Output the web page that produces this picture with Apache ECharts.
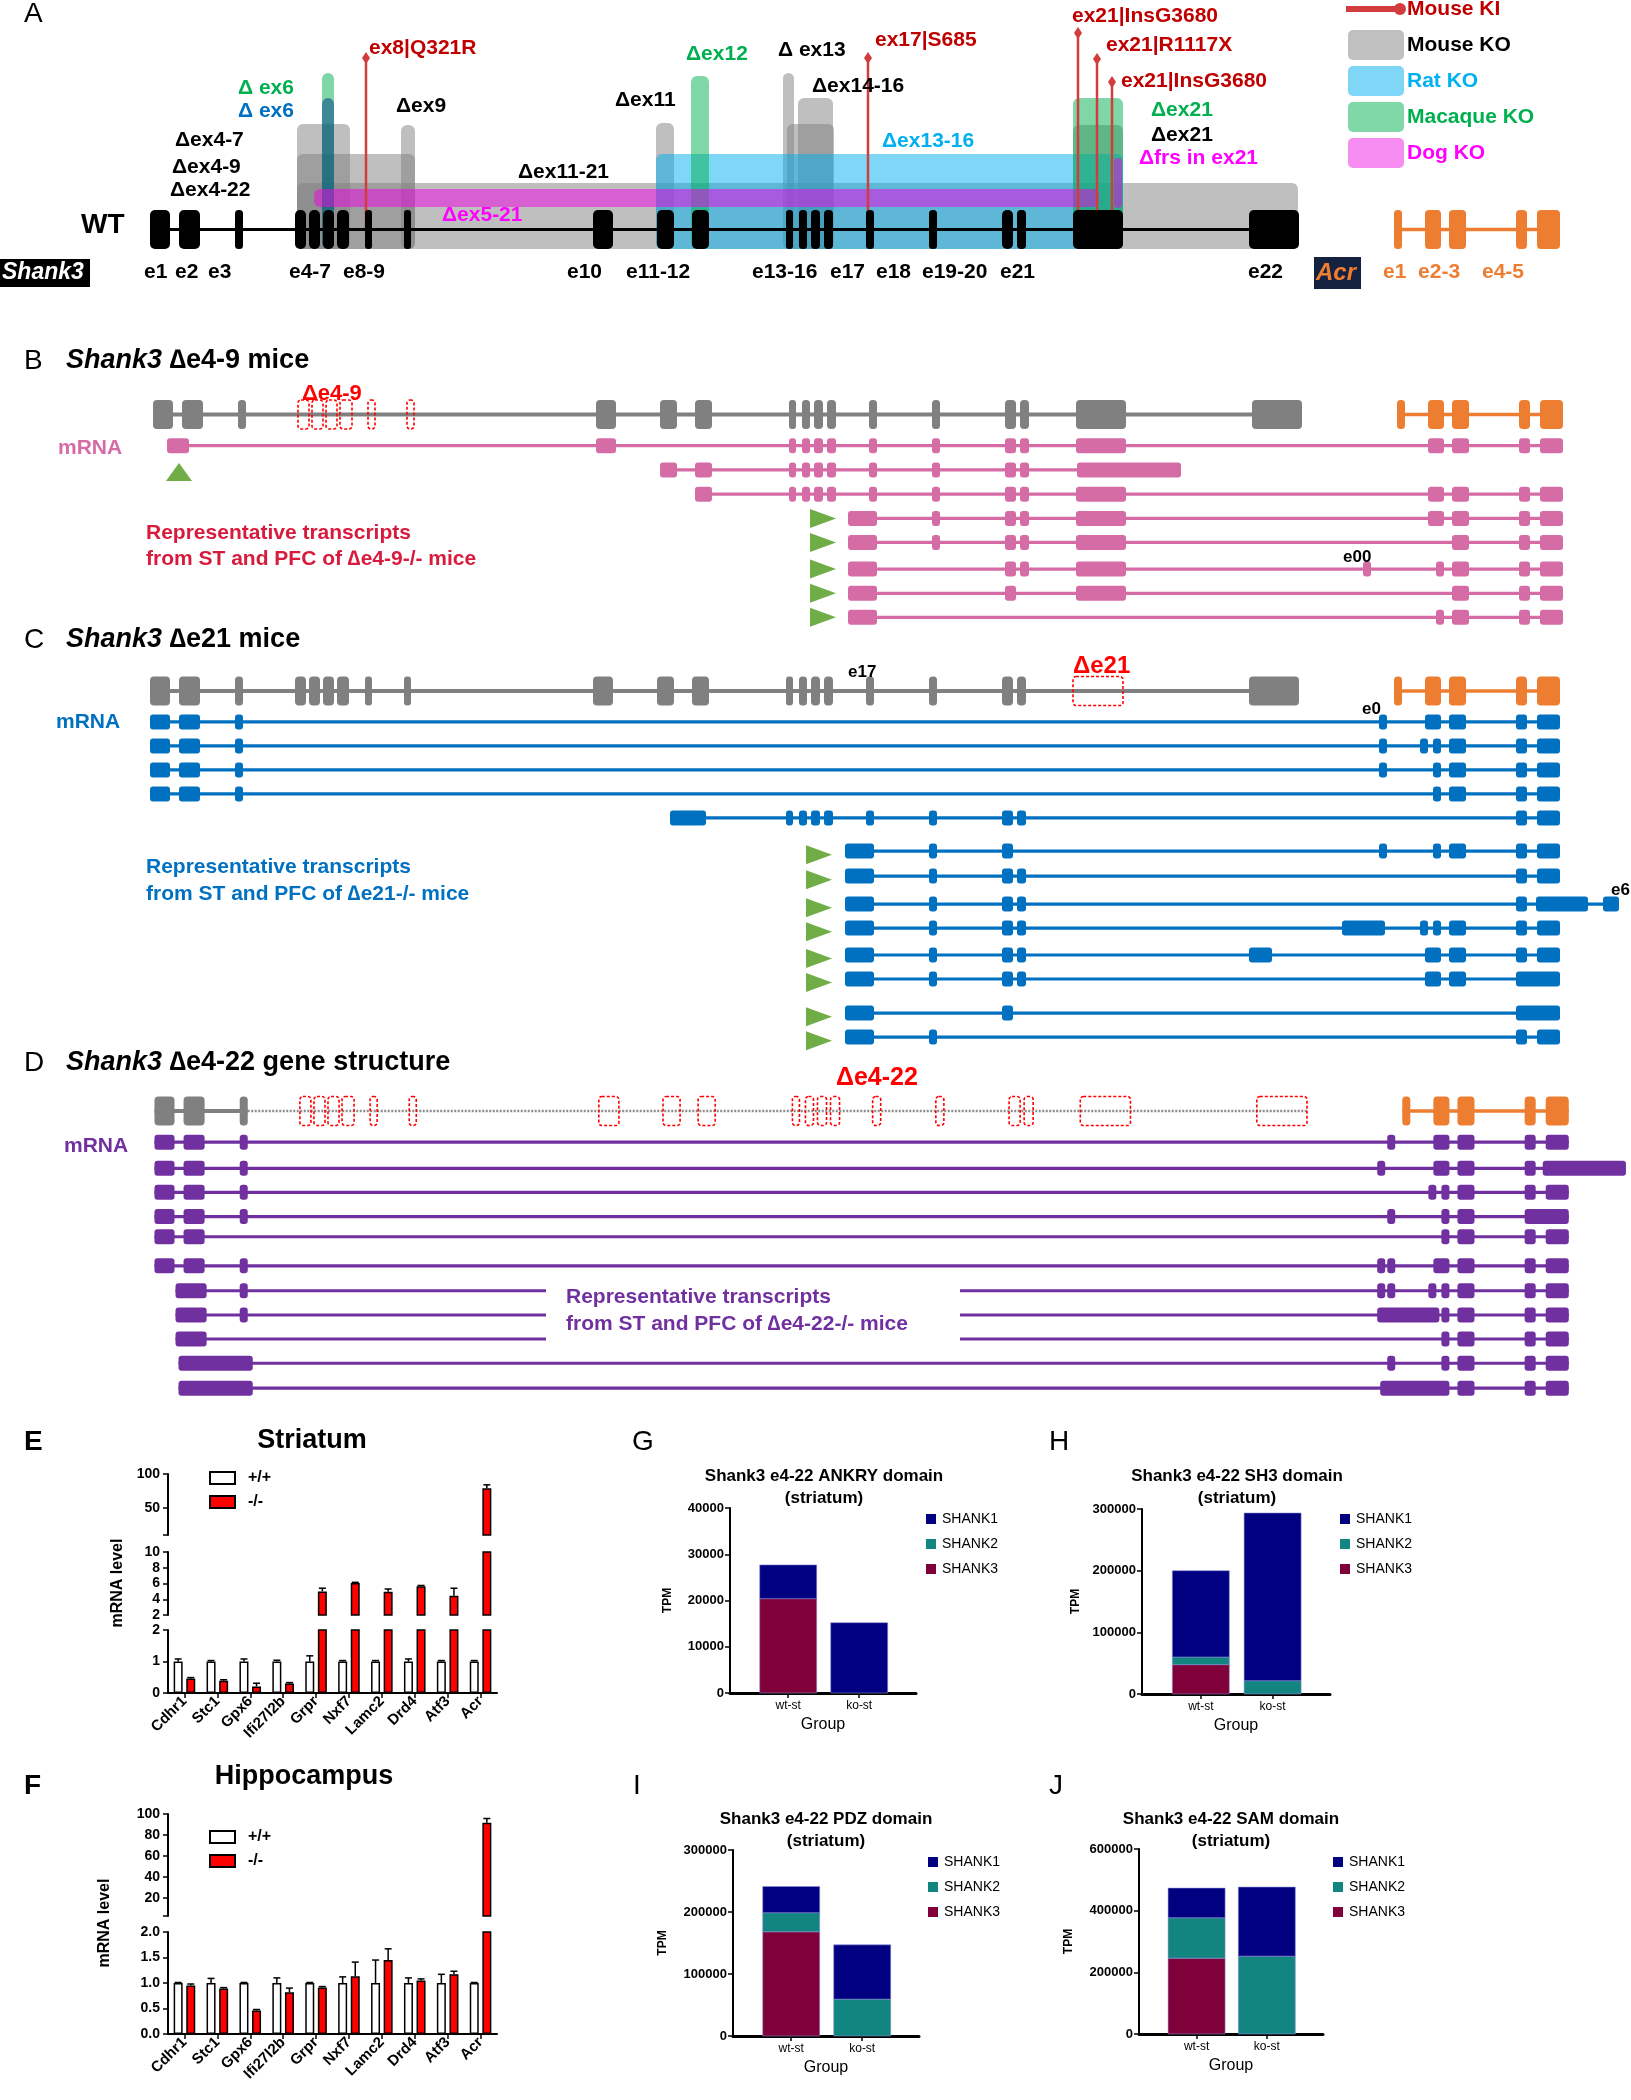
<!DOCTYPE html>
<html>
<head>
<meta charset="utf-8">
<title>Shank3 figure</title>
<script src="https://cdn.jsdelivr.net/npm/echarts@6/dist/echarts.min.js"></script>
<style>
html,body{margin:0;padding:0;background:#ffffff;}
#chart{width:1631px;height:2100px;}
</style>
</head>
<body>
<div id="chart"></div>
<script>
// ================= DATA =================
// Shank3 exons (genomic units as drawn in panel A)
const shank3Names = ['e1','e2','e3','e4','e5','e6','e7','e8','e9','e10','e11','e12','e13','e14','e15','e16','e17','e18','e19','e20','e21','e22'];
const shank3Start = [150,179,235,295,309,323,337,365,404,593,657,692,786,799,811,824,866,929,1002,1017,1073,1249];
const shank3End   = [170,200,243,306,320,334,349,372,411,613,674,709,793,807,820,833,874,937,1013,1026,1123,1299];
// Acr exons
const acrNames = ['a1','a2','a3','a4','a5'];
const acrStart = [1394,1425,1449,1516,1537];
const acrEnd   = [1402,1441,1466,1527,1560];
// novel / alternative exons seen in transcripts
const novelNames = ['n1','e17x','e21L','e00','e0','e0b','a2a','a2b','a45','a5L','xe6','x22a','x22b','e1112','a5X','e2x','e23','e0a2','e0a2b'];
const novelStart = [164,845,1074,1360,1379,1369,1420,1433,1516,1536,1603,1342,1249,670,1534,171,174,1369,1372];
const novelEnd   = [186,874,1178,1368,1387,1377,1428,1441,1560,1588,1619,1385,1272,706,1617,202,248,1431,1441];

// Panel A knockout regions: [start, end, top level (above gene line)]
const mouseKO   = [[297,350,105.5],[297,415,75.5],[297,1298,46.5],[401,415,104.5],[656,674,106.5],[783,794,156.5],[798,833,131.5],[787,834,105.5],[1073,1123,104.5]];
const ratKO     = [[656,1123,75.5]];
const macaqueKO = [[322,334,156.5],[691,709,153.5],[1073,1123,131.5]];
const blueKO    = [[322,334,131.5]];
const dogKO     = [[314,1099,40.5,22.5],[1114,1122,71.5,21.5]];
// Mouse knock-in mutations: [position, stem top level]
const mouseKI = [[366,171.5],[868,171.5],[1078,196.5],[1097,170.5],[1112,147.5]];

// deleted exons per model
const deletedB = ['e4','e5','e6','e7','e8','e9'];
const deletedC = ['e21'];
const deletedD = shank3Names.slice(3);

// transcripts (exon ids) and their track rows
const txB = [
 ['n1','e10','e13','e14','e15','e16','e17','e18','e19','e20','e21','a2','a3','a4','a5'],
 ['e11','e12','e13','e14','e15','e16','e17','e18','e19','e20','e21L'],
 ['e12','e13','e14','e15','e16','e17','e18','e19','e20','e21','a2','a3','a4','a5'],
 ['e17x','e18','e19','e20','e21','a2','a3','a4','a5'],
 ['e17x','e18','e19','e20','e21','a3','a4','a5'],
 ['e17x','e19','e20','e21','e00','a2b','a3','a4','a5'],
 ['e17x','e19','e21','a3','a4','a5'],
 ['e17x','a2b','a3','a4','a5']];
const rowsB = [1.3,2.31,3.32,4.33,5.33,6.44,7.45,8.45];
const txC = [
 ['e1','e2','e3','e0','a2','a3','a4','a5'],
 ['e1','e2','e3','e0','a2a','a2b','a3','a4','a5'],
 ['e1','e2','e3','e0','a2b','a3','a4','a5'],
 ['e1','e2','e3','a2b','a3','a4','a5'],
 ['e1112','e13','e14','e15','e16','e17','e18','e19','e20','a4','a5'],
 ['e17x','e18','e19','e0','a2b','a3','a4','a5'],
 ['e17x','e18','e19','e20','a4','a5'],
 ['e17x','e18','e19','e20','a4','a5L','xe6'],
 ['e17x','e18','e19','e20','x22a','a2a','a2b','a3','a4','a5'],
 ['e17x','e18','e19','e20','x22b','a2','a3','a4','a5'],
 ['e17x','e18','e19','e20','a2','a3','a45'],
 ['e17x','e19','a45'],
 ['e17x','e18','a4','a5']];
const rowsC = [1.29,2.29,3.29,4.29,5.29,6.67,7.71,8.88,9.88,11.0,12.0,13.42,14.42];
const txD = [
 ['e1','e2','e3','e0','a2','a3','a4','a5'],
 ['e1','e2','e3','e0b','a2','a3','a4','a5X'],
 ['e1','e2','e3','a2a','a2b','a3','a4','a5'],
 ['e1','e2','e3','e0','a2b','a3','a45'],
 ['e1','e2','a2b','a3','a4','a5'],
 ['e1','e2','e3','e0b','e0','a2','a3','a4','a5'],
 ['e2x','e3','e0b','e0','a2a','a2b','a3','a4','a5'],
 ['e2x','e3','e0a2','a2b','a3','a4','a5'],
 ['e2x','a2b','a3','a4','a5'],
 ['e23','e0','a2b','a3','a4','a5'],
 ['e23','e0a2b','a3','a4','a5']];
const rowsD = [1.3,2.39,3.39,4.4,5.24,6.45,7.49,8.5,9.5,10.51,11.55];
// start markers: [position, row, direction 0=up 1=right]
const triB = [[176,2.4,0],[820,4.33,1],[820,5.33,1],[820,6.44,1],[820,7.45,1],[820,8.45,1]];
const triC = [[819,6.82,1],[819,7.86,1],[819,9.03,1],[819,10.03,1],[819,11.15,1],[819,12.15,1],[819,13.57,1],[819,14.57,1]];

// qPCR (panels E, F)
const genes = ['Cdhr1','Stc1','Gpx6','Ifi27l2b','Grpr','Nxf7','Lamc2','Drd4','Atf3','Acr'];
const stWT    = [1,1,1,1,1,1,1,1,1,1];
const stWTerr = [0.08,0.03,0.08,0.04,0.18,0.03,0.03,0.08,0.03,0.03];
const stKO    = [0.46,0.39,0.21,0.3,5.0,6.05,4.95,5.65,4.45,79];
const stKOerr = [0.03,0.03,0.1,0.03,0.4,0.1,0.35,0.1,0.95,5];
const hpWT    = [1,1,1,1,1,1,1,1,1,1];
const hpWTerr = [0.01,0.09,0.01,0.1,0.01,0.12,0.45,0.1,0.17,0.01];
const hpKO    = [0.95,0.89,0.46,0.82,0.91,1.13,1.45,1.05,1.17,91.7];
const hpKOerr = [0.03,0.02,0.02,0.08,0.02,0.28,0.22,0.03,0.06,4];

// TPM (panels G-J), groups wt-st / ko-st
const groups = ['wt-st','ko-st'];
const ankS1 = [7300,15200],   ankS2 = [0,0],          ankS3 = [20400,0];
const sh3S1 = [140000,271900], sh3S2 = [12400,21600], sh3S3 = [47600,0];
const pdzS1 = [42200,87500],  pdzS2 = [30800,59500],  pdzS3 = [168100,0];
const samS1 = [96200,224000], samS2 = [131100,252500], samS3 = [245900,0];

// ================= RENDER =================
const FF = '"Liberation Sans", Arial, Helvetica, sans-serif';
const grids = [], xAxes = [], yAxes = [], series = [], legends = [], graphics = [];
function addGrid(g, x, y){ g.containLabel=false; g.outerBoundsMode='none'; grids.push(g); const i=grids.length-1; x.gridIndex=i; y.gridIndex=i; xAxes.push(x); yAxes.push(y); return i; }
function pos(id){ let i=shank3Names.indexOf(id); if(i>=0) return [shank3Start[i],shank3End[i]];
  i=acrNames.indexOf(id); if(i>=0) return [acrStart[i],acrEnd[i]]; i=novelNames.indexOf(id); return [novelStart[i],novelEnd[i]]; }
function exData(ids,row){ return ids.map(id=>{const p=pos(id); return [p[0],p[1],row];}); }

function segSeries(g, data, color, lw, dash, z){
  return {type:'custom', xAxisIndex:g, yAxisIndex:g, silent:true, z:z||2, data:data, encode:{x:[0,1],y:2},
    renderItem:function(p,api){ const a=api.coord([api.value(0),api.value(2)]), b=api.coord([api.value(1),api.value(2)]);
      return {type:'line', shape:{x1:a[0],y1:a[1],x2:b[0],y2:b[1]}, style:{stroke:color,lineWidth:lw,lineDash:dash||null}}; }};
}
function exonSeries(g, data, color, h, o){ o=o||{};
  return {type:'custom', xAxisIndex:g, yAxisIndex:g, silent:true, z:o.z||4, data:data, encode:{x:[0,1],y:2},
    renderItem:function(p,api){ const a=api.coord([api.value(0),api.value(2)]), b=api.coord([api.value(1),api.value(2)]);
      const w=Math.max(b[0]-a[0],2); const r=Math.min(o.r==null?4:o.r, w/2-0.5, h/2);
      const style=o.dash?{fill:'rgba(0,0,0,0)',stroke:color,lineWidth:1.6,lineDash:o.dash}:{fill:color};
      return {type:'rect', shape:{x:a[0],y:a[1]-h/2,width:w,height:h,r:Math.max(r,0)}, style:style}; }};
}
function boxSeries(g, data, color, z){
  return {type:'custom', xAxisIndex:g, yAxisIndex:g, silent:true, z:z||1, data:data, encode:{x:[0,1],y:[2,3]},
    renderItem:function(p,api){ const a=api.coord([api.value(0),api.value(2)]), b=api.coord([api.value(1),api.value(3)]);
      return {type:'rect', shape:{x:a[0],y:a[1],width:b[0]-a[0],height:b[1]-a[1],r:6}, style:{fill:color}}; }};
}
function triSeries(g, data){
  return {type:'custom', xAxisIndex:g, yAxisIndex:g, silent:true, z:5, data:data, encode:{x:0,y:1},
    renderItem:function(p,api){ const c=api.coord([api.value(0),api.value(1)]); const d=api.value(2);
      const pts = d===0 ? [[c[0]-13,c[1]+9],[c[0]+13,c[1]+9],[c[0],c[1]-9]] : [[c[0]-13,c[1]-9.5],[c[0]-13,c[1]+9.5],[c[0]+13,c[1]]];
      return {type:'polygon', shape:{points:pts}, style:{fill:'#70AD47'}}; }};
}
function txSeries(g, tx, rows, color){
  const lines = tx.map((t,k)=>{const ps=t.map(pos); return [Math.min.apply(null,ps.map(p=>p[0])), Math.max.apply(null,ps.map(p=>p[1])), rows[k]];});
  const ex = [].concat.apply([], tx.map((t,k)=>exData(t,rows[k])));
  series.push(segSeries(g, lines, color, 3.2, null, 3));
  series.push(exonSeries(g, ex, color, 15, {z:4, r:3}));
}
const hideAx = (min,max,inv)=>({type:'value', min:min, max:max, inverse:!!inv, show:false, splitLine:{show:false}});

// ---------- Panel A ----------
const gA = addGrid({left:0, top:0, width:1631, height:300}, hideAx(0,1631), hideAx(-70.5,229.5));
series.push(boxSeries(gA, mouseKO.map(b=>[b[0],b[1],b[2],-19.5]), 'rgba(128,128,128,0.5)', 1));
series.push(boxSeries(gA, ratKO.map(b=>[b[0],b[1],b[2],-19.5]), 'rgba(0,176,240,0.5)', 1));
series.push(boxSeries(gA, macaqueKO.map(b=>[b[0],b[1],b[2],-19.5]), 'rgba(0,176,80,0.5)', 1));
series.push(boxSeries(gA, blueKO.map(b=>[b[0],b[1],b[2],-19.5]), 'rgba(10,70,140,0.55)', 1));
series.push(boxSeries(gA, dogKO, 'rgba(240,0,230,0.5)', 1));
series.push({type:'custom', xAxisIndex:gA, yAxisIndex:gA, silent:true, z:2, data:mouseKI, encode:{x:0,y:1},
  renderItem:function(p,api){ const a=api.coord([api.value(0),0]), b=api.coord([api.value(0),api.value(1)]);
    return {type:'group', children:[
      {type:'line', shape:{x1:a[0],y1:a[1],x2:b[0],y2:b[1]}, style:{stroke:'#D23C3C',lineWidth:2.5}},
      {type:'polygon', shape:{points:[[b[0],b[1]-6],[b[0]+4,b[1]],[b[0],b[1]+6],[b[0]-4,b[1]]]}, style:{fill:'#D23C3C'}}]}; }});
series.push(segSeries(gA, [[shank3Start[0], shank3End[21], 0]], '#000', 3, null, 3));
series.push(exonSeries(gA, exData(shank3Names,0), '#000', 39, {z:4, r:5}));
series.push(segSeries(gA, [[acrStart[0], acrEnd[4], 0]], '#ED7D31', 3.5, null, 3));
series.push(exonSeries(gA, exData(acrNames,0), '#ED7D31', 39, {z:4, r:4}));

// ---------- Panels B, C, D ----------
function genePanel(g, deleted, dottedAfterE3){
  const present = shank3Names.filter(n=>deleted.indexOf(n)<0);
  if(dottedAfterE3){
    series.push(segSeries(g, [[shank3Start[0], shank3End[2], 0]], '#808080', 4, null, 3));
    series.push(segSeries(g, [[shank3End[2], shank3End[21], 0]], '#8c8c8c', 2.5, [2,1.5], 3));
  } else series.push(segSeries(g, [[shank3Start[0], shank3End[21], 0]], '#808080', 4, null, 3));
  series.push(exonSeries(g, exData(present,0), '#808080', 29, {z:4, r:4}));
  series.push(exonSeries(g, exData(deleted,0), '#FF0000', 29, {z:5, r:3, dash:[3,2]}));
  series.push(segSeries(g, [[acrStart[0], acrEnd[4], 0]], '#ED7D31', 3.5, null, 3));
  series.push(exonSeries(g, exData(acrNames,0), '#ED7D31', 29, {z:4, r:4}));
}
const gB = addGrid({left:3, top:390.5, width:1631, height:240}, hideAx(0,1631), hideAx(-1,9,true));
genePanel(gB, deletedB, false); txSeries(gB, txB, rowsB, '#D56CA6'); series.push(triSeries(gB, triB));
const gC = addGrid({left:0, top:667, width:1631, height:384}, hideAx(0,1631), hideAx(-1,15,true));
genePanel(gC, deletedC, false); txSeries(gC, txC, rowsC, '#0070C0'); series.push(triSeries(gC, triC));
const gD = addGrid({left:4, top:1087, width:1636, height:312}, hideAx(0,1631), hideAx(-1,12,true));
genePanel(gD, deletedD, true); txSeries(gD, txD, rowsD, '#7030A0');

// ---------- Panels E, F (broken axes) ----------
function brokenPanel(segs, wt, wtErr, ko, koErr){
  segs.forEach(s=>{
    const yAx = {type:'value', min:s.min, max:s.max, splitLine:{show:false},
      axisLine:{show:true, lineStyle:{color:'#000', width:2}},
      axisTick:{show:true, length:5, lineStyle:{color:'#000', width:1.5}},
      axisLabel:{color:'#000', fontSize:14, fontWeight:'bold', fontFamily:FF, margin:8, formatter:v=>String(v)}};
    if(s.interval!=null) yAx.interval=s.interval; else { yAx.axisTick.customValues=s.ticks; yAx.axisLabel.customValues=s.labels; }
    if(s.fmt1) yAx.axisLabel.formatter = v=>Number(v).toFixed(1);
    const xAx = {type:'category', data:genes, show:!!s.bottom, boundaryGap:true,
      axisLine:{show:true, lineStyle:{color:'#000', width:2}},
      axisTick:{show:true, alignWithLabel:true, length:5, lineStyle:{color:'#000', width:1.5}},
      axisLabel:{rotate:45, color:'#000', fontSize:15, fontWeight:'bold', fontFamily:FF, margin:6, interval:0}};
    const g = addGrid({left:168, top:s.top, width:329, height:s.h}, xAx, yAx);
    series.push({type:'bar', name:'+/+', xAxisIndex:g, yAxisIndex:g, data:wt, barWidth:9, barGap:'40%', clip:true, z:2,
      itemStyle:{color:'#fff', borderColor:'#000', borderWidth:1.5}});
    series.push({type:'bar', name:'-/-', xAxisIndex:g, yAxisIndex:g, data:ko, barWidth:9, barGap:'40%', clip:true, z:2,
      itemStyle:{color:'#FF0000', borderColor:'#000', borderWidth:1.5}});
    [[wt,wtErr,-6.3],[ko,koErr,6.3]].forEach(([vals,errs,off])=>{
      series.push({type:'custom', xAxisIndex:g, yAxisIndex:g, silent:true, z:3, data:vals.map((v,i)=>[i,v,errs[i]]), encode:{x:0,y:1},
        renderItem:function(p,api){ const v=api.value(1), e=api.value(2); if(v<s.min||v>s.max) return;
          const a=api.coord([api.value(0),v]), b=api.coord([api.value(0),Math.min(v+e,s.max)]); const x=a[0]+off;
          return {type:'group', children:[
            {type:'line', shape:{x1:x,y1:a[1],x2:x,y2:b[1]}, style:{stroke:'#000',lineWidth:1.5}},
            {type:'line', shape:{x1:x-3.5,y1:b[1],x2:x+3.5,y2:b[1]}, style:{stroke:'#000',lineWidth:1.5}}]}; }});
    });
  });
}
brokenPanel([{top:1474,h:61,min:10,max:100,ticks:[10,50,100],labels:[50,100]},
             {top:1552,h:63,min:2,max:10,interval:2},
             {top:1630,h:63,min:0,max:2,interval:1,bottom:true}], stWT, stWTerr, stKO, stKOerr);
brokenPanel([{top:1814,h:102,min:3,max:100,ticks:[3,20,40,60,80,100],labels:[20,40,60,80,100]},
             {top:1932,h:102,min:0,max:2,interval:0.5,bottom:true,fmt1:true}], hpWT, hpWTerr, hpKO, hpKOerr);
legends.push({left:209, top:1470, orient:'vertical', padding:0, itemWidth:25, itemHeight:12, itemGap:8, icon:'rect', data:['+/+','-/-'],
  textStyle:{color:'#000', fontSize:16, fontWeight:'bold', fontFamily:FF, padding:[0,0,0,8]}});
legends.push({left:209, top:1829, orient:'vertical', padding:0, itemWidth:25, itemHeight:12, itemGap:8, icon:'rect', data:['+/+','-/-'],
  textStyle:{color:'#000', fontSize:16, fontWeight:'bold', fontFamily:FF, padding:[0,0,0,8]}});

// ---------- Panels G-J (stacked TPM) ----------
const C1='#000080', C2='#138581', C3='#80003A';
function stackSeries(g, name, color, base, vals){
  return {type:'custom', name:name, xAxisIndex:g, yAxisIndex:g, z:2, itemStyle:{color:color},
    data:vals.map((v,i)=>[i+1, base[i], base[i]+v]), encode:{x:0, y:[1,2]},
    renderItem:function(p,api){ const a=api.coord([api.value(0),api.value(1)]), b=api.coord([api.value(0),api.value(2)]);
      if(a[1]-b[1] < 0.5) return;
      return {type:'rect', shape:{x:a[0]-28.5, y:b[1], width:57, height:a[1]-b[1]}, style:{fill:color, stroke:'rgba(140,140,215,0.7)', lineWidth:0.8}}; }};
}
function stackPanel(box, ymax, yint, s1, s2, s3, legPos, tpmGap){
  const g = addGrid({left:box[0], top:box[1], width:box[2], height:box[3]},
    {type:'value', min:0.18, max:2.8, splitLine:{show:false},
      axisLine:{show:true, onZero:false, lineStyle:{color:'#000', width:3}},
      axisTick:{show:true, customValues:[1,2], length:5, lineStyle:{color:'#000', width:1.5}},
      axisLabel:{customValues:[1,2], formatter:v=>groups[Math.round(v)-1], color:'#000', fontSize:12, fontFamily:FF, margin:7},
      name:'Group', nameLocation:'middle', nameGap:24, nameTextStyle:{color:'#000', fontSize:16, fontFamily:FF}},
    {type:'value', min:0, max:ymax, interval:yint, splitLine:{show:false},
      axisLine:{show:true, onZero:false, lineStyle:{color:'#000', width:2}},
      axisTick:{show:true, length:5, lineStyle:{color:'#000', width:1.5}},
      axisLabel:{color:'#000', fontSize:13, fontWeight:'bold', fontFamily:FF, margin:6, formatter:v=>String(v)},
      name:'TPM', nameLocation:'middle', nameGap:tpmGap, nameRotate:90, nameTextStyle:{color:'#000', fontSize:12, fontWeight:'bold', fontFamily:FF}});
  const zero = s1.map(()=>0);
  const b2 = s3.slice(), b1 = s3.map((v,i)=>v+s2[i]);
  series.push(stackSeries(g,'SHANK3',C3,zero,s3));
  series.push(stackSeries(g,'SHANK2',C2,b2,s2));
  series.push(stackSeries(g,'SHANK1',C1,b1,s1));
  legends.push({left:legPos[0], top:legPos[1], orient:'vertical', padding:0, itemWidth:10, itemHeight:10, itemGap:11, icon:'rect',
    data:['SHANK1','SHANK2','SHANK3'], textStyle:{color:'#000', fontSize:14, fontFamily:FF, padding:[0,0,0,1]}});
}
stackPanel([730,1508,186,185], 40000, 10000, ankS1, ankS2, ankS3, [926,1512], 56);
stackPanel([1142,1509,188,185], 300000, 100000, sh3S1, sh3S2, sh3S3, [1340,1512], 60);
stackPanel([733,1850,186,186], 300000, 100000, pdzS1, pdzS2, pdzS3, [928,1855], 64);
stackPanel([1139,1849,184,185], 600000, 200000, samS1, samS2, samS3, [1333,1855], 64);

// ================= TEXT / DECORATION =================
function font(size, weight, italic){ return (italic?'italic ':'') + (weight||'bold') + ' ' + size + 'px ' + FF; }
function T(text, x, y, size, color, o){ o=o||{}; const al=o.align||'left';
  return {type:'text', x:x, y:y, z:100, silent:true, rotation:o.rot||0,
    style:{text:text, fill:color||'#000', font:font(size,o.weight,o.italic), align:al, textAlign:al, verticalAlign:'middle', textVerticalAlign:'middle'}}; }
function titleRich(x, y, rest){
  return {type:'text', x:x, y:y, z:100, silent:true, style:{text:'{i|Shank3} {b|'+rest+'}', font:font(27), verticalAlign:'middle', textVerticalAlign:'middle',
    rich:{i:{fontStyle:'italic', fontWeight:'bold', fontSize:27, fontFamily:FF, fill:'#000'}, b:{fontWeight:'bold', fontSize:27, fontFamily:FF, fill:'#000'}}}}; }
const G='#00B050', CY='#00B0F0', MG='#FF00FF', DR='#C00000';
// Panel A
graphics.push(T('A',24,14,28,'#000',{weight:'normal'}));
graphics.push(T('WT',81,225,28));
graphics.push({type:'rect', shape:{x:0,y:259,width:90,height:28}, style:{fill:'#000'}, z:99});
graphics.push(T('Shank3',2,273,23,'#fff',{italic:true}));
graphics.push({type:'rect', shape:{x:1314,y:257,width:47,height:32}, style:{fill:'#14213f'}, z:99});
graphics.push(T('Acr',1316,273,24,'#ED7D31',{italic:true}));
[['e1',144],['e2',175],['e3',208],['e4-7',289],['e8-9',343],['e10',567],['e11-12',626],['e13-16',752],['e17',830],['e18',876],['e19-20',922],['e21',1000],['e22',1248]]
  .forEach(l=>graphics.push(T(l[0],l[1],272,21)));
graphics.push(T('e1  e2-3',1383,272,21,'#ED7D31'));
graphics.push(T('e4-5',1482,272,21,'#ED7D31'));
[['Δ ex6',238,88,G],['Δ ex6',238,111,'#0070C0'],['Δex4-7',175,140,'#000'],['Δex4-9',172,167,'#000'],['Δex4-22',170,190,'#000'],
 ['Δex9',396,106,'#000'],['Δex11',615,100,'#000'],['Δex12',686,54,G],['Δ ex13',778,50,'#000'],['Δex14-16',812,86,'#000'],
 ['Δex13-16',882,141,CY],['Δex11-21',518,172,'#000'],['Δex5-21',442,215,MG],['Δex21',1151,110,G],['Δex21',1151,135,'#000'],['Δfrs in ex21',1139,158,MG],
 ['ex8|Q321R',369,48,DR],['ex17|S685',875,40,DR],['ex21|InsG3680',1072,16,DR],['ex21|R1117X',1106,45,DR],['ex21|InsG3680',1121,81,DR]]
  .forEach(l=>graphics.push(T(l[0],l[1],l[2],21,l[3])));
// Panel A legend
graphics.push({type:'line', shape:{x1:1346,y1:9,x2:1399,y2:9}, style:{stroke:'#D23C3C', lineWidth:6}, z:99});
graphics.push({type:'circle', shape:{cx:1400,cy:9,r:6}, style:{fill:'#D23C3C'}, z:99});
[['#c0c0c0',30],['#7fd7f7',66],['#80d8a8',102],['#f78cf2',138]].forEach(b=>graphics.push({type:'rect', shape:{x:1348,y:b[1],width:56,height:30,r:5}, style:{fill:b[0]}, z:99}));
[['Mouse KI',9,DR],['Mouse KO',45,'#000'],['Rat KO',81,CY],['Macaque KO',117,G],['Dog KO',153,MG]].forEach(l=>graphics.push(T(l[0],1407,l[1],21,l[2])));
// Panel B
graphics.push(T('B',24,361,28,'#000',{weight:'normal'}));
graphics.push(titleRich(66,361,'∆e4-9 mice'));
graphics.push(T('Δe4-9',302,394,22,'#FF0000'));
graphics.push(T('mRNA',58,448,21,'#D56CA6'));
graphics.push(T('Representative transcripts',146,533,21,'#D81B3C'));
graphics.push(T('from ST and PFC of ∆e4-9-/- mice',146,559,21,'#D81B3C'));
graphics.push(T('e00',1343,557,17));
// Panel C
graphics.push(T('C',24,640,28,'#000',{weight:'normal'}));
graphics.push(titleRich(66,640,'∆e21 mice'));
graphics.push(T('e17',848,672,17));
graphics.push(T('Δe21',1073,666,24,'#FF0000'));
graphics.push(T('e0',1362,709,17));
graphics.push(T('mRNA',56,722,21,'#0070C0'));
graphics.push(T('Representative transcripts',146,867,21,'#0070C0'));
graphics.push(T('from ST and PFC of ∆e21-/- mice',146,894,21,'#0070C0'));
graphics.push(T('e6',1611,890,17));
// Panel D
graphics.push(T('D',24,1063,28,'#000',{weight:'normal'}));
graphics.push(titleRich(66,1063,'∆e4-22 gene structure'));
graphics.push(T('Δe4-22',836,1078,25,'#FF0000'));
graphics.push(T('mRNA',64,1146,21,'#7030A0'));
graphics.push({type:'rect', shape:{x:546,y:1281,width:414,height:66}, style:{fill:'#fff'}, z:90});
graphics.push(T('Representative transcripts',566,1297,21,'#7030A0'));
graphics.push(T('from ST and PFC of ∆e4-22-/- mice',566,1324,21,'#7030A0'));
// Panels E, F
graphics.push(T('E',24,1442,28));
graphics.push(T('Striatum',312,1441,27,'#000',{align:'center'}));
graphics.push(T('mRNA level',118,1583,16,'#000',{align:'center',rot:Math.PI/2}));
graphics.push(T('F',24,1786,28));
graphics.push(T('Hippocampus',304,1777,27,'#000',{align:'center'}));
graphics.push(T('mRNA level',105,1923,16,'#000',{align:'center',rot:Math.PI/2}));
// Panels G-J
[['G',632,1442],['H',1049,1442],['I',633,1786],['J',1049,1786]].forEach(l=>graphics.push(T(l[0],l[1],l[2],28,'#000',{weight:'normal'})));
[['Shank3 e4-22 ANKRY domain',824,1476],['Shank3 e4-22 SH3 domain',1237,1476],['Shank3 e4-22 PDZ domain',826,1819],['Shank3 e4-22 SAM domain',1231,1819]]
  .forEach(l=>{graphics.push(T(l[0],l[1],l[2],17,'#000',{align:'center'})); graphics.push(T('(striatum)',l[1],l[2]+22,17,'#000',{align:'center'}));});

const chart = echarts.init(document.getElementById('chart'), null, {renderer:'canvas', width:1631, height:2100});
chart.setOption({animation:false, backgroundColor:'#ffffff', textStyle:{fontFamily:FF},
  grid:grids, xAxis:xAxes, yAxis:yAxes, series:series, legend:legends, graphic:graphics});
</script>
</body>
</html>
